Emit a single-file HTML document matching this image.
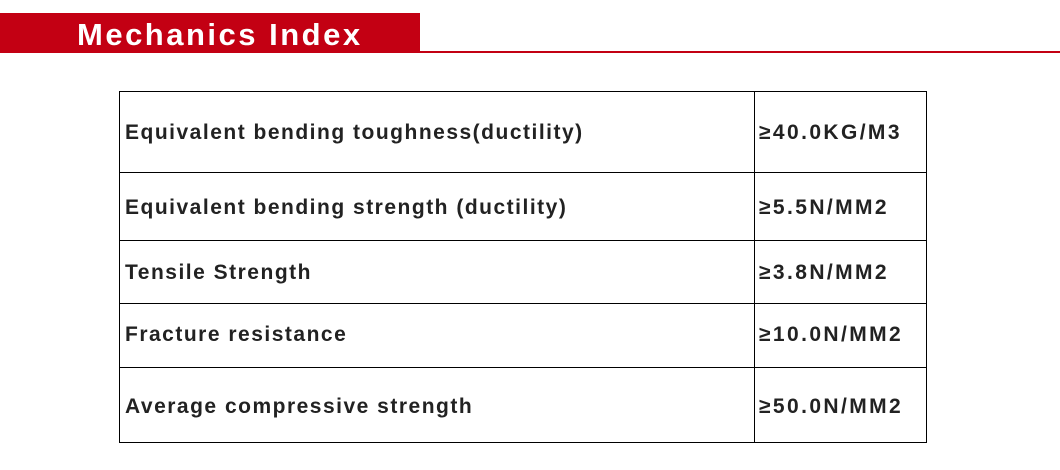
<!DOCTYPE html>
<html><head><style>
body{margin:0;width:1060px;height:470px;background:#fff;position:relative;overflow:hidden;font-family:"Liberation Sans",sans-serif}
.bar{position:absolute;left:0;top:13px;width:420px;height:40px;background:#c30013}
.line{position:absolute;left:420px;top:51px;width:640px;height:2px;background:#c30013}
.title{position:absolute;left:77px;top:15px;font-size:31px;font-weight:bold;color:#fff;letter-spacing:2.5px;line-height:40px}
.t{position:absolute;left:119px;top:91px;width:806px;height:350px;border:1px solid #000}
.r{position:absolute;left:0;width:806px;border-top:1px solid #000}
.c{position:absolute;left:634px;top:0;height:350px;border-left:1px solid #000}
.x{position:absolute;font-size:21px;font-weight:bold;color:#222;line-height:24px;letter-spacing:1.5px}
.v{letter-spacing:2.4px}
</style></head><body>
<div class="bar"></div><div class="line"></div>
<div class="title">Mechanics Index</div>
<div class="t">
<div class="r" style="top:80px"></div>
<div class="r" style="top:148px"></div>
<div class="r" style="top:211px"></div>
<div class="r" style="top:275px"></div>
<div class="c"></div>
<div class="x" style="left:5px;top:29px">Equivalent bending toughness(ductility)</div>
<div class="x v" style="left:639px;top:29px">≥40.0KG/M3</div>
<div class="x" style="left:5px;top:104px">Equivalent bending strength (ductility)</div>
<div class="x v" style="left:639px;top:104px">≥5.5N/MM2</div>
<div class="x" style="left:5px;top:169px">Tensile Strength</div>
<div class="x v" style="left:639px;top:169px">≥3.8N/MM2</div>
<div class="x" style="left:5px;top:231px">Fracture resistance</div>
<div class="x v" style="left:639px;top:231px">≥10.0N/MM2</div>
<div class="x" style="left:5px;top:303px">Average compressive strength</div>
<div class="x v" style="left:639px;top:303px">≥50.0N/MM2</div>
</div>
</body></html>
